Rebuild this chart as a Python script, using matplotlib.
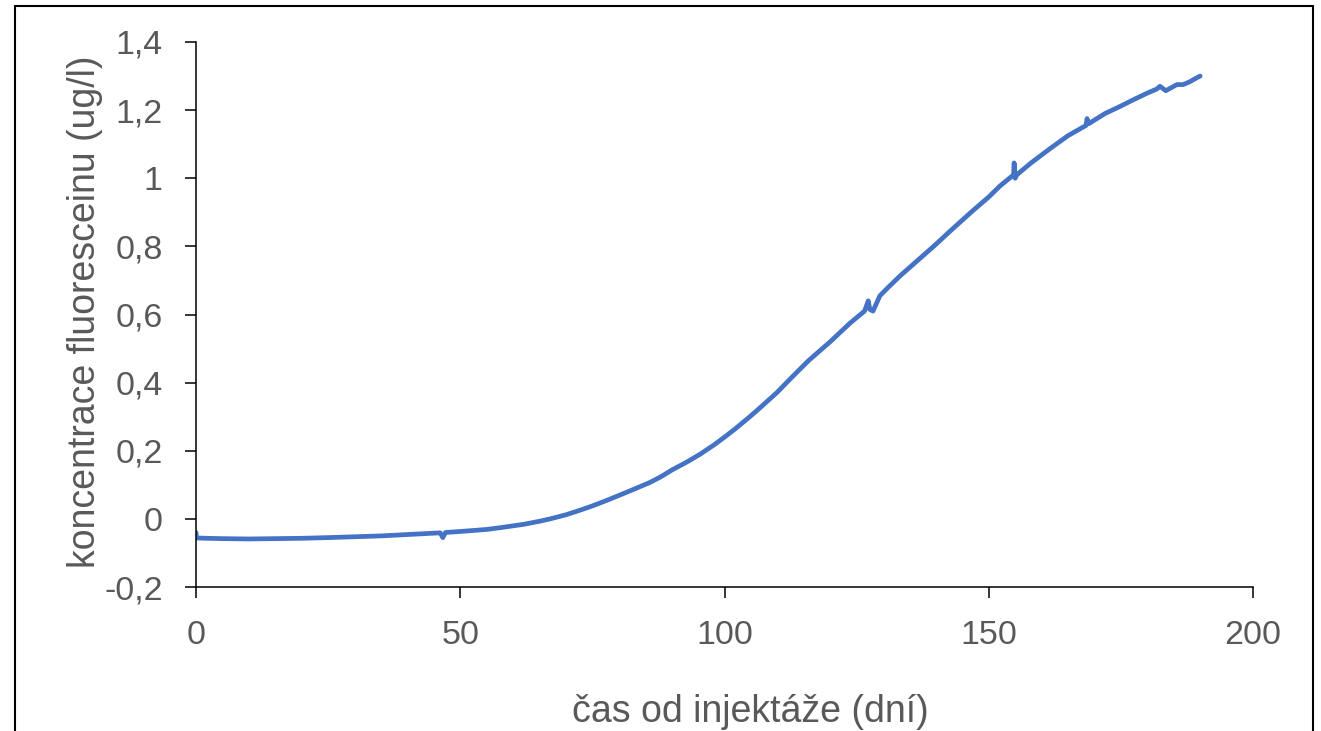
import matplotlib.pyplot as plt
from matplotlib.patches import Rectangle

plt.rcParams['font.family'] = ['Liberation Sans', 'DejaVu Sans']

# fluorescein concentration
days = [0, 0.1, 2, 5, 10, 15, 20, 25, 29, 35, 40, 46.2, 46.7, 47.2, 50,
        55, 57.5, 62, 65, 67, 70, 72, 75, 78, 81, 83, 85.9, 88, 90, 93, 95.4,
        98, 100, 102, 104.8, 107, 110, 112, 114.3, 116,
        118, 120, 123.7, 126.5, 127.2, 127.5, 128.1, 129.4, 131, 133.2, 137,
        140, 142.7, 147, 150, 152.1, 154.7, 154.8, 155, 155.3, 158, 161.6,
        165, 168.4, 168.6, 168.9, 172, 175, 177.3, 180, 181.8, 182.4, 183.5,
        185.6, 186.8, 188, 189.6, 190]
conc = [-0.04, -0.056, -0.057, -0.058, -0.059, -0.058, -0.057, -0.055,
        -0.053, -0.05, -0.046, -0.041, -0.055, -0.04, -0.037,
        -0.031, -0.026, -0.016, -0.007, 0.0, 0.012, 0.022, 0.038, 0.056,
        0.075, 0.088, 0.107, 0.124, 0.143, 0.168, 0.19,
        0.217, 0.24, 0.264, 0.30, 0.33, 0.372, 0.404, 0.44, 0.466,
        0.493, 0.52, 0.574, 0.61, 0.64, 0.615, 0.61, 0.655, 0.68, 0.713,
        0.765, 0.806, 0.845, 0.905, 0.945, 0.977, 1.01, 1.045, 1.0, 1.01,
        1.045, 1.087, 1.125, 1.155, 1.175, 1.16, 1.19, 1.212, 1.23, 1.25,
        1.262, 1.27, 1.257, 1.275, 1.275, 1.283, 1.297, 1.30]

x_ticks = [0, 50, 100, 150, 200]
y_ticks = [-0.2, 0, 0.2, 0.4, 0.6, 0.8, 1.0, 1.2, 1.4]
y_labels = ['-0,2', '0', '0,2', '0,4', '0,6', '0,8', '1', '1,2', '1,4']

W, H = 1321, 731
fig = plt.figure(figsize=(W / 100, H / 100), dpi=100)
ax = fig.add_axes([196 / W, 1 - 587 / H, (1253 - 196) / W, (587 - 42) / H])

ax.plot(days, conc, color='#4472C4', lw=3.4, solid_capstyle='round',
        solid_joinstyle='round')

ax.set_xlim(0, 200)
ax.set_ylim(-0.2, 1.4)
ax.set_xticks(x_ticks)
ax.set_xticklabels([str(t) for t in x_ticks])
ax.set_yticks(y_ticks)
ax.set_yticklabels(y_labels)

for s in ['top', 'right']:
    ax.spines[s].set_visible(False)
for s in ['left', 'bottom']:
    ax.spines[s].set_linewidth(1.1)
    ax.spines[s].set_color('black')

ax.tick_params(axis='both', direction='out', length=8, width=1.1,
               color='black', labelsize=24.5, labelcolor='#595959', pad=16)

fig.text(750 / W, 1 - 712 / H, 'čas od injektáže (dní)', ha='center',
         va='center', fontsize=27, color='#595959')
fig.text(85 / W, 1 - 312 / H, 'koncentrace fluoresceinu (ug/l)', ha='center',
         va='center', rotation=90, fontsize=27, color='#595959')

# outer chart frame (bottom edge runs off the picture)
fig.patches.append(Rectangle((15 / W, -0.05), (1313 - 15) / W,
                             1 - 6 / H + 0.05, transform=fig.transFigure,
                             fill=False, edgecolor='black', lw=1.5))

fig.savefig('out.png', dpi=100)
